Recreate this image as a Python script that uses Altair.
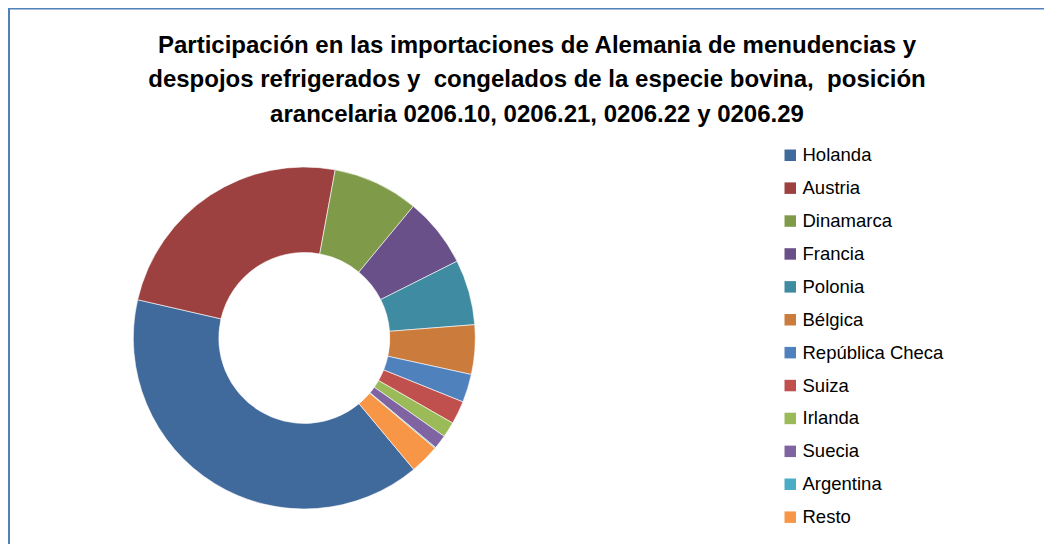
import math
import altair as alt
import pandas as pd

# ---- datos ----
titulo = [
    "Participación en las importaciones de Alemania de menudencias y",
    "despojos refrigerados y \u00a0congelados de la especie bovina, \u00a0posición",
    "arancelaria 0206.10, 0206.21, 0206.22 y 0206.29",
]
paises = ["Holanda", "Austria", "Dinamarca", "Francia", "Polonia", "Bélgica",
          "República Checa", "Suiza", "Irlanda", "Suecia", "Argentina", "Resto"]
participacion = [39.65, 24.30, 8.11, 6.58, 6.17, 4.67, 2.67, 2.19, 1.47, 1.31, 0.10, 2.78]
colores = ["#416A9C", "#9C4140", "#7F9A49", "#695088", "#3E8BA2", "#CB7B3B",
           "#4F81BD", "#C0504D", "#9BBB59", "#8064A2", "#4BACC6", "#F79646"]

df = pd.DataFrame({"pais": paises, "valor": participacion, "orden": list(range(len(paises)))})

W, H = 1036, 536
inicio = math.radians(140.2)

dona = alt.Chart(df).mark_arc(
    outerRadius=171, innerRadius=85.5, stroke="white", strokeWidth=0.6
).encode(
    theta=alt.Theta("valor:Q", stack=True,
                    scale=alt.Scale(domain=[0, 100], range=[inicio, inicio + 2 * math.pi])),
    order=alt.Order("orden:Q"),
    color=alt.Color(
        "pais:N",
        sort=paises,
        scale=alt.Scale(domain=paises, range=colores),
        legend=alt.Legend(
            title=None, orient="none", legendX=773, legendY=138,
            symbolType="square", symbolSize=132, symbolStrokeWidth=0,
            labelFont="Liberation Sans", labelFontSize=18.5, labelColor="#000000",
            labelOffset=3, rowPadding=13.9, padding=0,
        ),
    ),
    x=alt.value(296.3),
    y=alt.value(330),
)

tit = alt.Chart(pd.DataFrame({"k": [0]})).mark_text(
    font="Liberation Sans", fontSize=24, fontWeight="bold", color="#000000",
    align="center", baseline="alphabetic", lineHeight=34.3,
).encode(text=alt.value(titulo), x=alt.value(529), y=alt.value(45))

borde_sup = alt.Chart(pd.DataFrame({"k": [0]})).mark_rule(color="#4F81BD", strokeWidth=2).encode(
    x=alt.value(0), x2=alt.value(W), y=alt.value(0.5))
borde_izq = alt.Chart(pd.DataFrame({"k": [0]})).mark_rule(color="#4F81BD", strokeWidth=2).encode(
    x=alt.value(1), y=alt.value(0), y2=alt.value(H))

chart = alt.layer(borde_sup, borde_izq, dona, tit).properties(
    width=W, height=H, padding=0, autosize=alt.AutoSizeParams(type="none")
).configure_view(stroke=None)

chart.save("out.html", embed_options={"renderer": "svg", "actions": False})
